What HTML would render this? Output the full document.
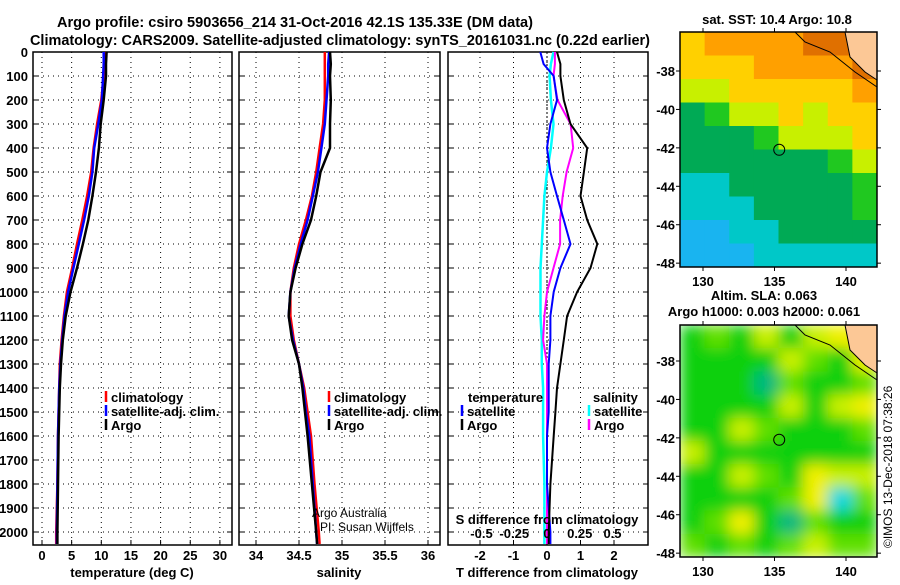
<!DOCTYPE html>
<html><head><meta charset="utf-8"><style>
body{margin:0;background:#fff;}
svg text{font-family:"Liberation Sans",sans-serif;font-weight:bold;font-size:13px;fill:#000;}
</style></head><body>
<svg id="c" width="900" height="580" xmlns="http://www.w3.org/2000/svg">
<defs>
<filter id="blur" x="0" y="0" width="1" height="1"><feGaussianBlur stdDeviation="7"/></filter>
<clipPath id="clipSla"><rect x="680" y="325" width="197" height="232"/></clipPath>
</defs>
<text x="57" y="27" textLength="476" lengthAdjust="spacingAndGlyphs" style="font-size:14.5px">Argo profile: csiro 5903656_214 31-Oct-2016 42.1S 135.33E (DM data)</text>
<text x="30" y="45" textLength="620" lengthAdjust="spacingAndGlyphs" style="font-size:14.5px">Climatology: CARS2009. Satellite-adjusted climatology: synTS_20161031.nc (0.22d earlier)</text>
<text x="777" y="24" text-anchor="middle">sat. SST: 10.4 Argo: 10.8</text>
<text x="764" y="300" text-anchor="middle">Altim. SLA: 0.063</text>
<text x="764" y="316" text-anchor="middle">Argo h1000: 0.003 h2000: 0.061</text>
<text transform="translate(892,548) rotate(-90)" style="font-weight:normal;font-size:12px">©IMOS 13-Dec-2018 07:38:26</text>
<g id="g"></g>
</svg>
<script>
const depthTicks=[0,100,200,300,400,500,600,700,800,900,1000,1100,1200,1300,1400,1500,1600,1700,1800,1900,2000];
const depths=[0,50,100,200,300,400,500,600,700,800,900,1000,1100,1200,1300,1400,1500,1600,1800,2000,2050];
const tempClim=[10.6,10.5,10.4,10.0,9.3,8.7,8.3,7.6,6.8,5.9,5.1,4.2,3.7,3.3,3.0,2.9,2.8,2.7,2.6,2.4,2.4];
const tempSat=[10.4,10.4,10.3,10.1,9.5,8.8,8.5,7.9,7.1,6.2,5.3,4.4,3.8,3.4,3.1,2.9,2.8,2.7,2.6,2.5,2.5];
const tempArgo=[10.9,10.8,10.8,10.4,9.9,9.6,9.1,8.5,7.8,6.9,5.9,4.8,4.0,3.5,3.2,3.0,2.9,2.8,2.7,2.6,2.6];
const salClim=[34.8,34.8,34.8,34.8,34.78,34.74,34.7,34.65,34.58,34.5,34.44,34.4,34.4,34.44,34.5,34.56,34.6,34.64,34.68,34.73,34.74];
const salSat=[34.85,34.84,34.84,34.82,34.8,34.76,34.72,34.66,34.6,34.52,34.45,34.4,34.38,34.43,34.5,34.55,34.58,34.62,34.66,34.7,34.71];
const salArgo=[34.86,34.87,34.86,34.87,34.86,34.86,34.75,34.7,34.64,34.54,34.46,34.4,34.38,34.42,34.5,34.54,34.57,34.6,34.65,34.7,34.71];
const tdSat=[-0.2,-0.1,0.2,0.3,0.1,0.0,0.1,0.3,0.5,0.7,0.4,0.2,0.1,0.1,0.05,0.05,0.05,0.0,0.0,0.1,0.1];
const tdArgo=[0.3,0.4,0.4,0.5,0.7,1.2,1.1,1.0,1.2,1.5,1.3,0.9,0.6,0.5,0.4,0.3,0.25,0.2,0.1,0.05,0.05];
const sdSat=[0.05,0.03,0.02,0.03,0.05,0.03,0.0,-0.02,-0.03,-0.04,-0.05,-0.05,-0.05,-0.04,-0.04,-0.03,-0.03,-0.03,-0.02,-0.02,-0.02];
const sdArgo=[0.06,0.06,0.05,0.08,0.18,0.2,0.15,0.12,0.1,0.1,0.05,0.0,-0.02,-0.03,0.0,0.0,0.0,0.0,0.0,0.0,0.0];
const tempTicks=[0,5,10,15,20,25,30];
const salTicks=[34,34.5,35,35.5,36];
const tdTicks=[-2,-1,0,1,2];
const sdTicks=[-0.5,-0.25,0,0.25,0.5];
const sdLabels=['-0.5','-0.25','0','0.25','0.5'];
const lonTicks=[130,135,140];
const latTicks=[-38,-40,-42,-44,-46,-48];
const sstGrid=[
[13.5,14,14,14.5,15,15.5,15.5,16],
[13,13,13.5,14,14,14.5,15,15.5],
[12,12.5,13,13,13.5,13.5,13.5,14.5],
[10.5,11,12,12.5,13,12.5,13,13.5],
[10.5,10.5,10.5,11,12,12,12.5,13],
[10.3,10.3,10.5,10.5,10.5,10.5,11,12],
[10,10,10.3,10.3,10.3,10.3,10.5,11],
[9.5,9.5,9.5,10.3,10.3,10.3,10.3,11],
[9,9,9.3,9.5,10.3,10.3,10.3,10.3],
[8.8,8.8,9,9.3,9.5,9.5,9.5,9.5]];
const slaGrid=[
[0.0,0.05,0.0,0.08,0.02,0.1,0.12,0.2],
[0.0,0.0,-0.05,0.0,0.1,0.05,0.0,0.15],
[0.02,0.0,0.02,-0.12,0.05,-0.05,0.02,0.05],
[0.0,0.0,0.0,0.02,0.08,0.0,0.1,0.12],
[0.0,-0.02,0.1,0.05,0.0,-0.05,0.0,0.05],
[0.08,0.0,0.02,0.0,0.0,-0.05,0.0,0.02],
[0.0,0.0,0.1,0.05,0.02,0.15,0.08,0.1],
[0.02,-0.05,0.0,0.0,0.05,0.12,-0.2,0.05],
[0.0,0.05,0.12,0.0,-0.08,0.05,0.0,0.02],
[0.05,0.02,0.05,0.0,0.05,0.08,0.05,0.05]];

const g=document.getElementById('g');const NS='http://www.w3.org/2000/svg';
function el(t,a,p){const e=document.createElementNS(NS,t);for(const k in a)e.setAttribute(k,a[k]);(p||g).appendChild(e);return e;}
const yD=d=>52+d*0.24;
const Y0=52,Y1=545;
function panel(x0,x1,name){
  const p=el('g',{});
  
  
  el('rect',{x:x0,y:Y0,width:x1-x0,height:Y1-Y0,fill:'#fff',stroke:'#000','stroke-width':1.5},p);
  depthTicks.forEach(d=>{if(d>0)el('line',{x1:x0,x2:x1,y1:yD(d),y2:yD(d),stroke:'#000','stroke-dasharray':'1 4'},p);
    el('line',{x1:x0,x2:x0+5,y1:yD(d),y2:yD(d),stroke:'#000'},p);el('line',{x1:x1-5,x2:x1,y1:yD(d),y2:yD(d),stroke:'#000'},p);});
  return p;
}
function vgrid(p,ticks,fx,labels,ly){
  ticks.forEach((t,i)=>{const x=fx(t);el('line',{x1:x,x2:x,y1:Y0,y2:Y1,stroke:'#000','stroke-dasharray':'1 4'},p);
    el('line',{x1:x,x2:x,y1:Y1,y2:Y1-5,stroke:'#000'},p);
    if(labels){const tx=el('text',{x:x,y:ly,'text-anchor':'middle'},p);tx.textContent=labels[i];}});
}
function line(p,xs,fx,col,w,name){
  const pts=depths.map((d,i)=>fx(xs[i]).toFixed(1)+','+yD(d).toFixed(1)).join(' ');
  const l=el('polyline',{points:pts,fill:'none',stroke:col,'stroke-width':w},p);
  
  
}
depthTicks.forEach(d=>{const t=el('text',{x:28,y:yD(d)+5,'text-anchor':'end'});t.textContent=d;});
const fT=v=>42+v*5.93;
const p1=panel(33,232,'temperature-panel');
vgrid(p1,tempTicks,fT,tempTicks,560);
line(p1,tempClim,fT,'#f00',2.5,'temp-climatology-line');
line(p1,tempSat,fT,'#00f',2.5,'temp-satellite-line');
line(p1,tempArgo,fT,'#000',2.5,'temp-argo-line');
const fS=v=>256+(v-34)*86;
const p2=panel(239,440,'salinity-panel');
vgrid(p2,salTicks,fS,salTicks,560);
line(p2,salClim,fS,'#f00',2.5,'sal-climatology-line');
line(p2,salSat,fS,'#00f',2.5,'sal-satellite-line');
line(p2,salArgo,fS,'#000',2.5,'sal-argo-line');
const fTD=v=>547+v*33.5, fSD=v=>547+v*131;
const p3=panel(448,648,'difference-panel');
vgrid(p3,tdTicks,fTD,tdTicks,560);
el('line',{x1:547,x2:547,y1:Y0,y2:Y1,stroke:'#000','stroke-dasharray':'2 2'},p3);
line(p3,sdSat,fSD,'#0ff',2.5,'sdiff-satellite-line');
line(p3,sdArgo,fSD,'#f0f',2,'sdiff-argo-line');
line(p3,tdSat,fTD,'#00f',2,'tdiff-satellite-line');
line(p3,tdArgo,fTD,'#000',2,'tdiff-argo-line');
sdTicks.forEach((t,i)=>{const tx=el('text',{x:fSD(t),y:538,'text-anchor':'middle'},p3);tx.textContent=sdLabels[i];});
function txt(x,y,s,name,a){const t=el('text',Object.assign({x:x,y:y},a||{}));t.textContent=s;return t;}
txt(132,577,'temperature (deg C)','temp-x-title',{'text-anchor':'middle'});
txt(339,577,'salinity','sal-x-title',{'text-anchor':'middle'});
txt(547,577,'T difference from climatology','tdiff-x-title',{'text-anchor':'middle'});
txt(547,524,'S difference from climatology','sdiff-axis-title',{'text-anchor':'middle'});
function leg(x,y,col,s,name){el('line',{x1:x,x2:x,y1:y-11,y2:y,stroke:col,'stroke-width':2.5});txt(x+5,y,s,name);}
leg(106,402,'#f00','climatology','legend-climatology');leg(106,416,'#00f','satellite-adj. clim.','legend-satellite');leg(106,430,'#000','Argo','legend-argo');
leg(329,402,'#f00','climatology','legend2-climatology');leg(329,416,'#00f','satellite-adj. clim.','legend2-satellite');leg(329,430,'#000','Argo','legend2-argo');
txt(468,402,'temperature','legend3-temperature-header');
leg(462,416,'#00f','satellite','legend3-t-satellite');leg(462,430,'#000','Argo','legend3-t-argo');
txt(593,402,'salinity','legend3-salinity-header');
leg(589,416,'#0ff','satellite','legend3-s-satellite');leg(589,430,'#f0f','Argo','legend3-s-argo');
txt(312,517,'Argo Australia','credit-argo-australia',{style:'font-weight:normal;font-size:12px'});
txt(320,531,'PI: Susan Wijffels','credit-pi',{style:'font-weight:normal;font-size:12px'});
function sstCol(v){const s=[[8.5,'#19b4f0'],[9.3,'#00c8c8'],[10.2,'#00aa55'],[11,'#20c820'],[12,'#c8f000'],[13,'#ffd000'],[14,'#ffa000'],[15.5,'#e07000']];
  let c=s[0][1];for(const q of s)if(v>=q[0])c=q[1];return c;}
function slaCol(v){if(v<-0.15)return '#00d8e0';if(v<-0.06)return '#00b880';if(v<0.03)return '#10d010';if(v<0.07)return '#60e000';if(v<0.11)return '#c8f000';return '#f0f000';}
const fLon=v=>703+(v-130)*14.3;
function map(y0,y1,latY,grid,colf,name,blur){
  const x0=680,x1=877;
  const m=el('g',{});
  
  
  const fLat=v=>latY+(-38-v)*((y1-latY)/10.2);
  const rows=grid.length,cols=grid[0].length,cw=(x1-x0)/cols,ch=(y1-y0)/rows;
  const cells=el('g',blur?{'clip-path':'url(#clipSla)'}:{},m);
  const inner=el('g',blur?{filter:'url(#blur)'}:{},cells);
  grid.forEach((r,i)=>r.forEach((v,j)=>{el('rect',{x:x0+j*cw,y:y0+i*ch,width:cw+0.5,height:ch+0.5,fill:colf(v)},inner);}));
  el('path',{d:`M${x0+115},${y0} L${x0+125},${y0+10} L${x0+150},${y0+20} L${x0+175},${y0+40} L${x1},${y0+55}`,fill:'none',stroke:'#000'},m);
  el('path',{d:`M${x0+165},${y0} L${x0+170},${y0+25} L${x0+185},${y0+40} L${x1},${y0+48} L${x1},${y0} Z`,fill:'#fcc896',stroke:'#000'},m);
  el('circle',{cx:fLon(135.33),cy:fLat(-42.1),r:5.5,fill:'none',stroke:'#000'},m);
  el('rect',{x:x0,y:y0,width:x1-x0,height:y1-y0,fill:'none',stroke:'#000','stroke-width':1.5},m);
  latTicks.forEach(l=>{const y=fLat(l);el('line',{x1:x0-4,x2:x0,y1:y,y2:y,stroke:'#000'},m);el('line',{x1:x1,x2:x1+4,y1:y,y2:y,stroke:'#000'},m);
    const t=el('text',{x:x0-5,y:y+5,'text-anchor':'end'},m);t.textContent=l;});
  lonTicks.forEach(l=>{const x=fLon(l);el('line',{x1:x,x2:x,y1:y1,y2:y1+4,stroke:'#000'},m);el('line',{x1:x,x2:x,y1:y0-4,y2:y0,stroke:'#000'},m);
    const t=el('text',{x:x,y:y1+19,'text-anchor':'middle'},m);t.textContent=l;});
}
map(32,267,71,sstGrid,sstCol,'sst-map',false);
map(325,557,361,slaGrid,slaCol,'sla-map',true);
</script>
</body></html>
